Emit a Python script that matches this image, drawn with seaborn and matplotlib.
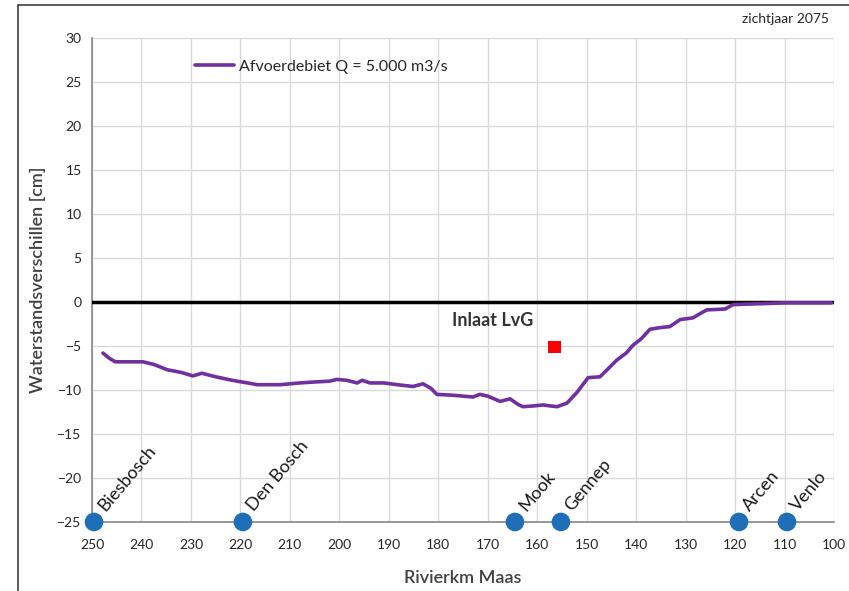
import matplotlib.pyplot as plt
import matplotlib.lines as mlines
import seaborn as sns
import pandas as pd

# river km (Maas) and water level difference [cm]
km = [247.8, 246.5, 245.3, 243.0, 239.7, 237.5, 234.8, 232.0, 229.6, 227.8,
      225.0, 222.5, 220.7, 218.5, 216.6, 214.0, 212.0, 208.0, 205.3, 202.0,
      200.5, 198.5, 196.4, 195.4, 193.8, 191.0, 188.3, 185.1, 183.1, 181.5,
      180.3, 177.0, 175.0, 173.0, 171.6, 170.0, 167.5, 165.5, 164.0, 162.9,
      160.5, 158.8, 157.5, 156.0, 154.0, 152.0, 149.7, 147.3, 145.5, 143.9,
      142.0, 140.6, 139.0, 137.2, 135.0, 133.2, 131.1, 128.5, 127.0, 125.7,
      122.0, 120.4, 118.0, 115.0, 110.0, 105.0, 100.5]
dv = [-5.8, -6.4, -6.8, -6.8, -6.8, -7.1, -7.7, -8.0, -8.4, -8.1,
      -8.5, -8.8, -9.0, -9.2, -9.4, -9.4, -9.4, -9.2, -9.1, -9.0,
      -8.8, -8.9, -9.2, -8.9, -9.2, -9.2, -9.4, -9.6, -9.3, -9.8,
      -10.5, -10.6, -10.7, -10.8, -10.5, -10.7, -11.3, -11.0, -11.6, -11.9,
      -11.8, -11.7, -11.8, -11.9, -11.5, -10.3, -8.6, -8.5, -7.5, -6.6,
      -5.8, -4.9, -4.2, -3.1, -2.9, -2.8, -2.0, -1.8, -1.3, -0.9,
      -0.8, -0.3, -0.25, -0.2, -0.1, -0.1, -0.1]

# places along the river
places = ["Biesbosch", "Den Bosch", "Mook", "Gennep", "Arcen", "Venlo"]
place_km = [249.6, 219.5, 164.5, 155.2, 119.2, 109.5]
place_y = [-25, -25, -25, -25, -25, -25]

# inlet point
inlet_km = [156.5]
inlet_dv = [-5.1]

sns.set_style("white")
plt.rcParams['font.family'] = ['Lato', 'DejaVu Sans']

df = pd.DataFrame({"km": km, "dv": dv})
df_places = pd.DataFrame({"km": place_km, "y": place_y, "name": places})

fig = plt.figure(figsize=(8.49, 5.91), dpi=100)
ax = fig.add_axes([0.1084, 0.1168, 0.8739, 0.8189])

ax.axhline(0, color='black', lw=2.5, zorder=3)
sns.lineplot(data=df, x="km", y="dv", color='#7030A0', lw=2.6, ax=ax,
             label='Afvoerdebiet Q = 5.000 m3/s', zorder=4)
sns.scatterplot(x=inlet_km, y=inlet_dv, marker='s', color='#ff0000', s=80,
                edgecolor='none', ax=ax, zorder=5)
sns.scatterplot(data=df_places, x="km", y="y", color='#1f6fb8', s=180,
                edgecolor='none', ax=ax, zorder=6, clip_on=False)

for _, r in df_places.iterrows():
    ax.text(r["km"] - 2.3, r["y"] + 1.1, r["name"], rotation=50,
            rotation_mode='anchor', ha='left', va='baseline', fontsize=13,
            color='#1a1a1a')

ax.text(169, -2.1, 'Inlaat LvG', ha='center', va='center', fontsize=13,
        fontweight='bold', color='#333333')

ax.set_xlim(250, 100)
ax.set_ylim(-25, 30)
ax.set_xticks(range(250, 99, -10))
ax.set_yticks(range(-25, 31, 5))
ax.set_xticklabels([str(v) for v in range(250, 99, -10)])
ax.grid(True, color='#d9d9d9', lw=1)
ax.tick_params(axis='both', length=4, color='#868686', labelsize=10,
               labelcolor='#262626', direction='out')
ax.tick_params(axis='x', pad=8)
for s in ['top', 'right']:
    ax.spines[s].set_visible(False)
for s in ['left', 'bottom']:
    ax.spines[s].set_color('#868686')
    ax.spines[s].set_linewidth(1.2)

ax.set_xlabel('Rivierkm Maas', fontsize=13, color='#404040', labelpad=14,
              fontweight='semibold')
ax.set_ylabel('Waterstandsverschillen [cm]', fontsize=13, color='#404040',
              labelpad=8, fontweight='semibold')

leg = ax.legend(loc='upper left', bbox_to_anchor=(0.12, 0.985), frameon=False,
                fontsize=11.5, handlelength=2.4, handletextpad=0.3)

fig.text(0.976, 0.968, 'zichtjaar 2075', ha='right', va='center', fontsize=10,
         color='#262626')

# outer frame lines
fig.add_artist(mlines.Line2D([18 / 849, 18 / 849], [0, 1 - 5 / 591],
                             color='#404040', lw=1.2))
fig.add_artist(mlines.Line2D([18 / 849, 1], [1 - 5 / 591, 1 - 5 / 591],
                             color='#404040', lw=1.2))

fig.savefig('out.png', dpi=100)
